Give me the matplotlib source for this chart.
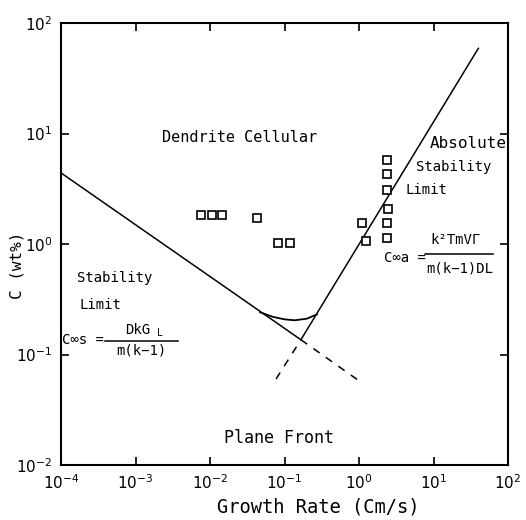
import matplotlib
matplotlib.use("Agg")
import matplotlib.pyplot as plt
import numpy as np

# ---- data ----
xticks = [1e-4, 1e-3, 1e-2, 1e-1, 1e0, 1e1, 1e2]
xtick_labels = [r'$10^{-4}$', r'$10^{-3}$', r'$10^{-2}$', r'$10^{-1}$', r'$10^{0}$', r'$10^{1}$', r'$10^{2}$']
yticks = [1e-2, 1e-1, 1e0, 1e1, 1e2]
ytick_labels = [r'$10^{-2}$', r'$10^{-1}$', r'$10^{0}$', r'$10^{1}$', r'$10^{2}$']

stab_x = [1e-4, 0.166]
stab_y = [4.4, 0.136]
stab_dash_x = [0.166, 1.07]
stab_dash_y = [0.136, 0.056]
abs_x = [0.166, 40]
abs_y = [0.136, 59]
abs_dash_x = [0.077, 0.166]
abs_dash_y = [0.06, 0.136]
curve_x = [0.047, 0.07, 0.1, 0.138, 0.2, 0.273]
curve_y = [0.241, 0.219, 0.208, 0.204, 0.211, 0.231]

sq_x = [0.0076, 0.0106, 0.0145, 0.043, 0.082, 0.119,
        1.1, 1.25, 2.4, 2.4, 2.4, 2.45, 2.4, 2.4]
sq_y = [1.84, 1.84, 1.84, 1.72, 1.02, 1.02,
        1.55, 1.06, 5.8, 4.3, 3.1, 2.08, 1.55, 1.13]

W, H = 526, 520
fig = plt.figure(figsize=(W / 100, H / 100), dpi=100)
ax = fig.add_axes([61 / W, 1 - 465 / H, (508 - 61) / W, (465 - 23) / H])
ax.set_xscale('log')
ax.set_yscale('log')
ax.set_xlim(1e-4, 1e2)
ax.set_ylim(1e-2, 1e2)

lc = 'black'
ax.plot(stab_x, stab_y, color=lc, lw=1.1)
ax.plot(abs_x, abs_y, color=lc, lw=1.1)
ax.plot(stab_dash_x, stab_dash_y, color=lc, lw=1.1, dashes=(5, 5))
ax.plot(abs_dash_x, abs_dash_y, color=lc, lw=1.1, dashes=(5, 5))
ax.plot(curve_x, curve_y, color=lc, lw=1.3)
ax.plot(sq_x, sq_y, ls='none', marker='s', ms=5.5, mfc='white', mec=lc, mew=1.2)

ax.set_xticks(xticks)
ax.set_xticklabels(xtick_labels)
ax.set_yticks(yticks)
ax.set_yticklabels(ytick_labels)
ax.minorticks_off()
ax.tick_params(which='major', direction='in', length=6, width=1.2,
               top=True, right=True, labelsize=11, pad=6)
for s in ax.spines.values():
    s.set_linewidth(1.5)

mono = 'DejaVu Sans Mono'

def txt(px, py, s, size, ha='center', va='center', **kw):
    fig.text(px / W, 1 - py / H, s, fontsize=size, ha=ha, va=va, family=mono, **kw)

txt(240, 138, 'Dendrite Cellular', 11)
txt(468, 143, 'Absolute', 11.5)
txt(454, 167, 'Stability', 10)
txt(426, 190, 'Limit', 10)
txt(115, 278, 'Stability', 10)
txt(100, 305, 'Limit', 10)
txt(279, 438, 'Plane Front', 12)

# right formula
txt(405, 258, 'C∞a =', 10)
txt(455, 240, 'k²TmVΓ', 10)
txt(460, 268, 'm(k−1)DL', 10)
fig.add_artist(plt.Line2D([425 / W, 493 / W], [1 - 254 / H, 1 - 254 / H], color=lc, lw=1.1))

# left formula
txt(83, 340, 'C∞s =', 10)
txt(138, 330, 'DkG', 10)
txt(160, 333, 'L', 7)
txt(141, 351, 'm(k−1)', 10)
fig.add_artist(plt.Line2D([105 / W, 178 / W], [1 - 341 / H, 1 - 341 / H], color=lc, lw=1.1))

txt(318, 507, 'Growth Rate (Cm/s)', 13.5)
txt(17, 265, 'C (wt%)', 11.5, rotation=90)

fig.savefig('out.png', dpi=100)
